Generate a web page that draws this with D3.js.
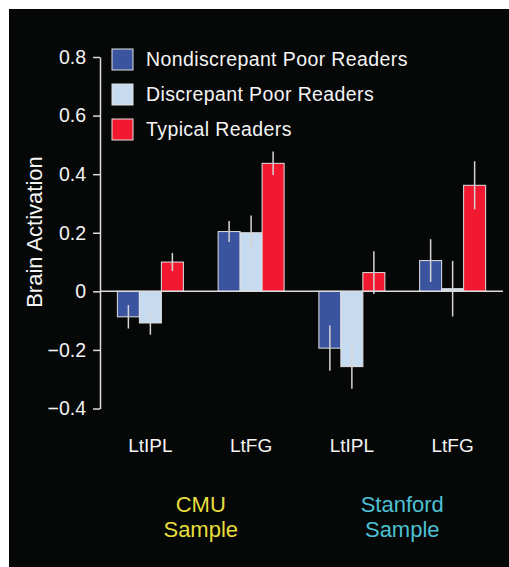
<!DOCTYPE html>
<html>
<head>
<meta charset="utf-8">
<script src="https://cdn.jsdelivr.net/npm/d3@7"></script>
<style>
  html, body { margin: 0; padding: 0; background: #fff; }
  text { font-family: "Liberation Sans", Arial, Helvetica, sans-serif; }
</style>
</head>
<body>
<svg id="chart" width="509" height="567"></svg>
<script>
// ---------------- data ----------------
var regions = ["LtIPL", "LtFG", "LtIPL ", "LtFG "];
var regionLabels = ["LtIPL", "LtFG", "LtIPL", "LtFG"];
var seriesNames = ["Nondiscrepant Poor Readers", "Discrepant Poor Readers", "Typical Readers"];
var nondiscrepant = [-0.087, 0.204, -0.194, 0.105];
var discrepant = [-0.108, 0.200, -0.257, 0.009];
var typical = [0.100, 0.437, 0.064, 0.362];
var nondiscrepantErr = [0.040, 0.036, 0.077, 0.073];
var discrepantErr = [0.040, 0.059, 0.076, 0.095];
var typicalErr = [0.031, 0.040, 0.073, 0.082];
var yTicks = [-0.4, -0.2, 0, 0.2, 0.4, 0.6, 0.8];
var samples = ["CMU", "Stanford"];
var sampleColors = ["#e6de3c", "#4cc0d2"];

var colors = ["#3a54a0", "#c7dbf0", "#f2182f"];
var values = [nondiscrepant, discrepant, typical];
var errors = [nondiscrepantErr, discrepantErr, typicalErr];

var svg = d3.select("#chart");

// black panel
svg.append("rect")
    .attr("x", 9).attr("y", 9)
    .attr("width", 500).attr("height", 558)
    .attr("fill", "#060707");

// ---------------- scales ----------------
var x0 = d3.scaleBand()
    .domain(regions)
    .range([100, 503])
    .paddingInner(0.345)
    .paddingOuter(0.1725);

var x1 = d3.scaleBand()
    .domain(d3.range(seriesNames.length))
    .range([0, x0.bandwidth()]);

var y = d3.scaleLinear()
    .domain([-0.4, 0.8])
    .range([408.5, 57]);

// ---------------- y axis ----------------
var yAxis = svg.append("g")
    .attr("transform", "translate(100,0)")
    .call(d3.axisLeft(y)
        .tickValues(yTicks)
        .tickSize(7)
        .tickSizeOuter(0)
        .tickPadding(7)
        .tickFormat(function(d) { return d === 0 ? "0" : d3.format(".1f")(d); }));

yAxis.select(".domain").attr("stroke", "#dcdcdc").attr("stroke-width", 1.5);
yAxis.selectAll(".tick line").attr("stroke", "#dcdcdc").attr("stroke-width", 1.5);
yAxis.selectAll(".tick text")
    .attr("fill", "#f4f4f4")
    .style("font-size", "19.5px")
    .style("font-family", "'Liberation Sans', Arial, sans-serif");

svg.append("text")
    .attr("transform", "translate(42,232) rotate(-90)")
    .attr("text-anchor", "middle")
    .attr("fill", "#f4f4f4")
    .style("font-size", "22px")
    .text("Brain Activation");

// ---------------- bars ----------------
var groups = svg.selectAll("g.region")
    .data(regions)
    .enter().append("g")
    .attr("class", "region")
    .attr("transform", function(d) { return "translate(" + x0(d) + ",0)"; });

groups.selectAll("rect")
    .data(function(d, i) {
        return values.map(function(v, s) { return { s: s, value: v[i], err: errors[s][i] }; });
    })
    .enter().append("rect")
    .attr("x", function(d) { return x1(d.s); })
    .attr("width", x1.bandwidth())
    .attr("y", function(d) { return y(Math.max(0, d.value)); })
    .attr("height", function(d) { return Math.abs(y(d.value) - y(0)); })
    .attr("fill", function(d) { return colors[d.s]; })
    .attr("stroke", "#e2e2e2")
    .attr("stroke-width", 1);

// zero line
svg.append("line")
    .attr("x1", 100).attr("x2", 503)
    .attr("y1", y(0)).attr("y2", y(0))
    .attr("stroke", "#dcdcdc")
    .attr("stroke-width", 1.5);

// error bars
groups.selectAll("line.err")
    .data(function(d, i) {
        return values.map(function(v, s) { return { s: s, value: v[i], err: errors[s][i] }; });
    })
    .enter().append("line")
    .attr("class", "err")
    .attr("x1", function(d) { return x1(d.s) + x1.bandwidth() / 2; })
    .attr("x2", function(d) { return x1(d.s) + x1.bandwidth() / 2; })
    .attr("y1", function(d) { return y(d.value + d.err); })
    .attr("y2", function(d) { return y(d.value - d.err); })
    .attr("stroke", "#d4d4d4")
    .attr("stroke-width", 1.5);

// region labels
svg.selectAll("text.region")
    .data(regions)
    .enter().append("text")
    .attr("class", "region")
    .attr("x", function(d) { return x0(d) + x0.bandwidth() / 2; })
    .attr("y", 452)
    .attr("text-anchor", "middle")
    .attr("fill", "#f4f4f4")
    .style("font-size", "19px")
    .text(function(d, i) { return regionLabels[i]; });

// sample labels
var sampleG = svg.selectAll("g.sample")
    .data(samples)
    .enter().append("text")
    .attr("class", "sample")
    .attr("text-anchor", "middle")
    .attr("fill", function(d, i) { return sampleColors[i]; })
    .style("font-size", "22px");

sampleG.append("tspan")
    .attr("x", function(d, i) {
        return (x0(regions[i * 2]) + x0(regions[i * 2 + 1]) + x0.bandwidth()) / 2;
    })
    .attr("y", 511.5)
    .text(function(d) { return d; });

sampleG.append("tspan")
    .attr("x", function(d, i) {
        return (x0(regions[i * 2]) + x0(regions[i * 2 + 1]) + x0.bandwidth()) / 2;
    })
    .attr("y", 536.5)
    .text("Sample");

// ---------------- legend ----------------
var legend = svg.selectAll("g.legend")
    .data(seriesNames)
    .enter().append("g")
    .attr("class", "legend")
    .attr("transform", function(d, i) { return "translate(112," + (49 + i * 35) + ")"; });

legend.append("rect")
    .attr("width", 21).attr("height", 21)
    .attr("fill", function(d, i) { return colors[i]; })
    .attr("stroke", "#e2e2e2")
    .attr("stroke-width", 1);

legend.append("text")
    .attr("x", 34)
    .attr("y", 17)
    .attr("fill", "#f4f4f4")
    .style("font-size", "19.5px")
    .style("letter-spacing", "0.4px")
    .text(function(d) { return d; });
</script>
</body>
</html>
